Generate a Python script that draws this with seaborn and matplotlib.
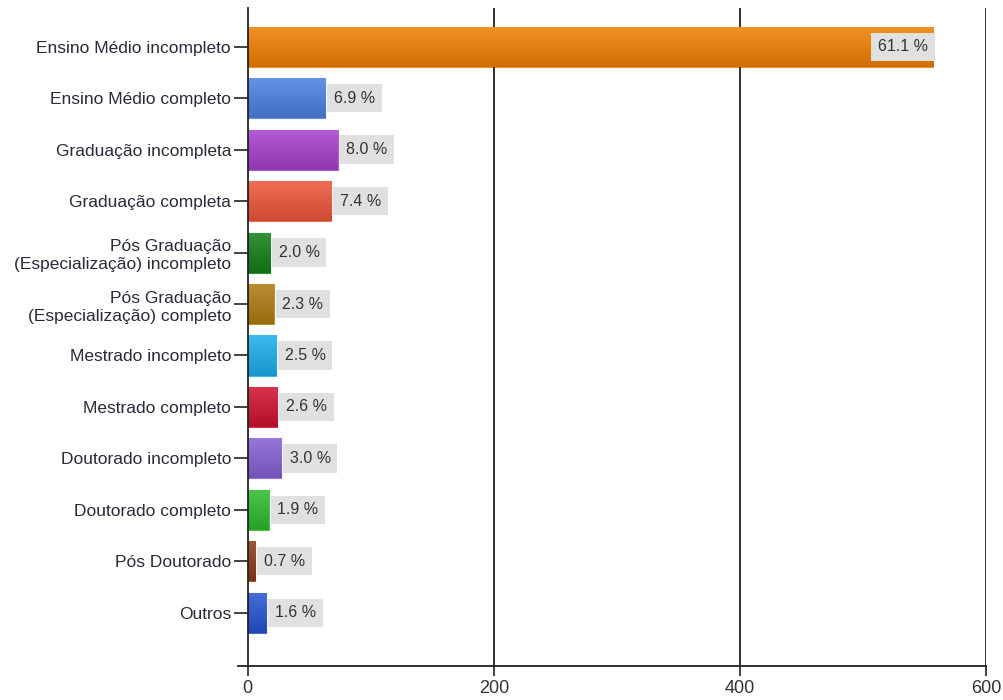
import numpy as np
import pandas as pd
import matplotlib
matplotlib.use('Agg')
import matplotlib.pyplot as plt
import matplotlib.colors as mcolors
import seaborn as sns

# data
categories = ['Ensino Médio incompleto', 'Ensino Médio completo', 'Graduação incompleta',
              'Graduação completa', 'Pós Graduação\n(Especialização) incompleto',
              'Pós Graduação\n(Especialização) completo', 'Mestrado incompleto',
              'Mestrado completo', 'Doutorado incompleto', 'Doutorado completo',
              'Pós Doutorado', 'Outros']
counts = [557, 63, 73, 68, 18, 21, 23, 24, 27, 17, 6, 15]
percents = [61.1, 6.9, 8.0, 7.4, 2.0, 2.3, 2.5, 2.6, 3.0, 1.9, 0.7, 1.6]
colors = ['#f07e00', '#4a80e0', '#a63fcc', '#ec5538', '#137e17', '#b07a10',
          '#1aaeea', '#d01030', '#8560d2', '#2cba2c', '#8a3a18', '#2553d0']

df = pd.DataFrame({'cat': categories, 'n': counts, 'pct': percents})

sns.set_style('white')
plt.rcParams['font.family'] = ['Liberation Sans', 'DejaVu Sans']

fig = plt.figure(figsize=(10.04, 7.0), dpi=100)
ax = fig.add_axes([0.237, 0.049, 0.745, 0.94])

sns.barplot(data=df, y='cat', x='n', hue='cat', palette=colors, legend=False,
            orient='h', width=0.78, saturation=1, ax=ax)

# vertical gradient on each bar (lighter top, darker bottom)
for p, c in zip(ax.patches, colors):
    x0, y0 = p.get_x(), p.get_y()
    w, h = p.get_width(), p.get_height()
    rgb = np.array(mcolors.to_rgb(c))
    top = rgb + (1 - rgb) * 0.15
    bot = rgb * 0.87
    t = np.linspace(0, 1, 64)[:, None]
    grad = (top[None, :] * (1 - t) + bot[None, :] * t)[:, None, :]
    im = ax.imshow(grad, extent=[x0, x0 + w, y0 + h, y0], aspect='auto',
                   zorder=2, interpolation='bilinear')
    im.set_clip_path(p)
    p.set_edgecolor(top)
    p.set_linewidth(0.8)

# percentage labels in grey boxes
for i, (n, pct) in enumerate(zip(counts, percents)):
    box = dict(boxstyle='square,pad=0.42', facecolor='#e0e0e0', edgecolor='none')
    if n > 300:
        ax.text(n - 4, i, f'{pct:.1f} %', ha='right', va='center', fontsize=11.5,
                color='#333333', bbox=box, zorder=4)
    else:
        ax.text(n + 7, i, f'{pct:.1f} %', ha='left', va='center', fontsize=11.5,
                color='#333333', bbox=box, zorder=4)

ax.set_xlim(-8, 600)
ax.set_ylim(len(categories) - 1 + 1.03, -0.76)
ax.set_xticks([0, 200, 400, 600])
ax.set_xlabel('')
ax.set_ylabel('')
for xv in [200, 400, 600]:
    ax.axvline(xv, color='#222222', lw=1.3, zorder=1)

ax.spines['left'].set_position(('data', 0))
ax.spines['top'].set_visible(False)
ax.spines['right'].set_visible(False)
for s in ['left', 'bottom']:
    ax.spines[s].set_color('#222222')
    ax.spines[s].set_linewidth(1.3)
    ax.spines[s].set_zorder(5)
ax.tick_params(axis='y', length=10, width=1.2, color='#222222', labelsize=12.5,
               labelcolor='#2a2a3a', left=True, pad=2)
ax.tick_params(axis='x', length=7, width=1.2, color='#222222', labelsize=13,
               labelcolor='#333333', bottom=True, pad=3)
for lbl in ax.get_yticklabels():
    lbl.set_multialignment('right')
    lbl.set_linespacing(1.25)

plt.savefig('out.png', dpi=100)
plt.close()
